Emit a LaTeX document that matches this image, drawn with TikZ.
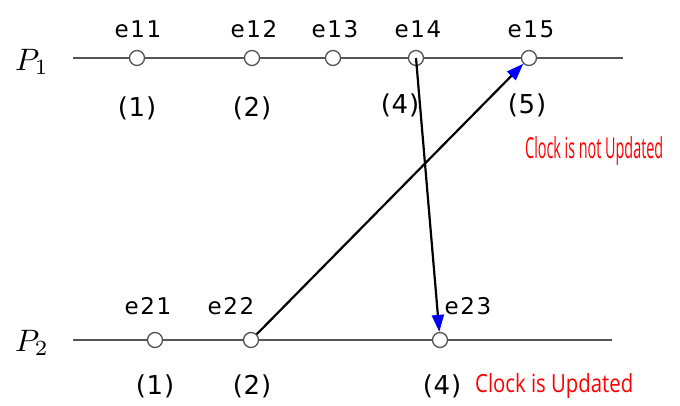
\documentclass[tikz,border=0pt]{standalone}
\usepackage{fontspec}
\setmainfont{DejaVu Sans}
\newfontfamily\lblfont[LetterSpace=7]{DejaVu Sans}
\newfontfamily\numfont[LetterSpace=3]{DejaVu Sans}
\newfontfamily\redfont{Open Sans}
\usetikzlibrary{arrows.meta}
\definecolor{linegray}{RGB}{85,85,85}
\tikzset{
  evt/.style={circle,draw=linegray,fill=white,line width=1.3pt,minimum size=15pt,inner sep=0pt},
  proc/.style={draw=linegray,line width=1.6pt},
  lbl/.style={font=\lblfont\fontsize{23pt}{25pt}\selectfont,inner sep=0pt},
  num/.style={font=\numfont\fontsize{26pt}{28pt}\selectfont,inner sep=0pt},
  plbl/.style={font=\fontsize{10pt}{12pt}\selectfont,scale=3.1,inner sep=0pt},
  msg/.style={draw=black,line width=2.2pt,-{Triangle[length=17pt,width=12pt,color=blue]}},
  note/.style={text=red,inner sep=0pt}
}
\begin{document}
\begin{tikzpicture}[x=1pt,y=-1pt]
\useasboundingbox (0,0) rectangle (680,405);
% process labels
\node[plbl] (p1) at (32,62) {$P_1$};
\node[plbl] (p2) at (32,343) {$P_2$};
% process lines
\coordinate (l1s) at (73,58); \coordinate (l1e) at (623,58);
\coordinate (l2s) at (73,340); \coordinate (l2e) at (612,340);
\draw[proc] (l1s) -- (l1e);
\draw[proc] (l2s) -- (l2e);
% events P1
\node[evt] (e11) at (137,58) {};
\node[evt] (e12) at (252,58) {};
\node[evt] (e13) at (333,58) {};
\node[evt] (e14) at (416,58) {};
\node[evt] (e15) at (529,58) {};
% events P2
\node[evt] (e21) at (155,340) {};
\node[evt] (e22) at (251,340) {};
\node[evt] (e23) at (440,340) {};
% event labels
\node[lbl] (t11) at (138,29) {e11};
\node[lbl] (t12) at (254,29) {e12};
\node[lbl] (t13) at (335,29) {e13};
\node[lbl] (t14) at (418,29) {e14};
\node[lbl] (t15) at (531,29) {e15};
\node[lbl] (t21) at (148,306) {e21};
\node[lbl] (t22) at (231,306) {e22};
\node[lbl] (t23) at (468,306) {e23};
% clock values
\node[num] (n11) at (137,108) {(1)};
\node[num] (n12) at (252,108) {(2)};
\node[num] (n14) at (400,105) {(4)};
\node[num] (n15) at (527,105) {(5)};
\node[num] (n21) at (155,386) {(1)};
\node[num] (n22) at (252,386) {(2)};
\node[num] (n23) at (442,386) {(4)};
% notes
\node[note,anchor=base west] (c1) at (525,158) {\resizebox{138pt}{22pt}{\redfont Clock is not Updated}};
\node[note,anchor=base west] (c2) at (475,392) {\resizebox{158pt}{19pt}{\redfont Clock is Updated}};
% messages
\draw[msg] (e22) -- (e15);
\draw[msg] (e14.center) -- (e23);
\end{tikzpicture}
\end{document}
